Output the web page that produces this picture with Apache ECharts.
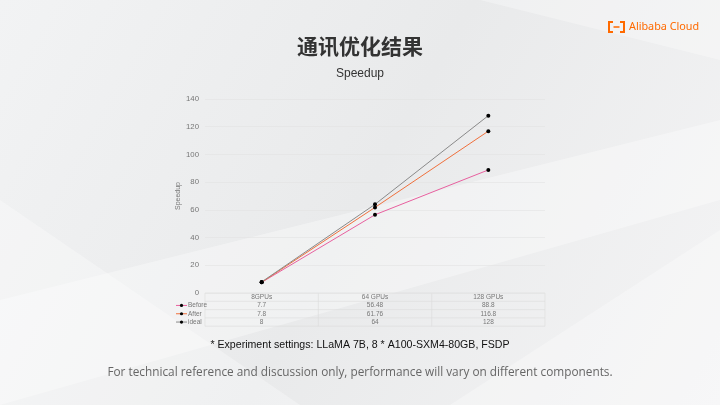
<!DOCTYPE html>
<html><head><meta charset="utf-8">
<script src="https://cdn.jsdelivr.net/npm/echarts@6/dist/echarts.min.js"></script>
<style>html,body{margin:0;padding:0;}#c{width:720px;height:405px;}</style>
</head><body><div id="c"></div>
<script>
const categories = ['8GPUs', '64 GPUs', '128 GPUs'];
const seriesNames = ['Before', 'After', 'ideal'];
const beforeVals = [7.7, 56.48, 88.8];
const afterVals = [7.8, 61.76, 116.8];
const idealVals = [8, 64, 128];
const yTicks = [0, 20, 40, 60, 80, 100, 120, 140];
const colors = ['#e8609f', '#f0703c', '#8a8a8a'];
const allVals = [beforeVals, afterVals, idealVals];

const chart = echarts.init(document.getElementById('c'));
const gl = 205, gr = 545, gt = 99, gb = 293;
const rowH = 8.3;
const graphics = [];
// background swooshes
graphics.push({type:'polygon', z:-10, shape:{points:[[0,300],[720,120],[720,200],[0,405]]}, style:{fill:'rgba(255,255,255,0.35)'}});
graphics.push({type:'polygon', z:-10, shape:{points:[[0,200],[300,405],[0,405]]}, style:{fill:'rgba(255,255,255,0.3)'}});
graphics.push({type:'polygon', z:-10, shape:{points:[[450,405],[720,230],[720,405]]}, style:{fill:'rgba(255,255,255,0.3)'}});
graphics.push({type:'polygon', z:-10, shape:{points:[[480,0],[720,0],[720,60]]}, style:{fill:'rgba(255,255,255,0.3)'}});
// table lines
for (let i = 0; i <= 4; i++) {
  graphics.push({type:'line', shape:{x1:gl, y1:gb + i*rowH, x2:gr, y2:gb + i*rowH}, style:{stroke:'#dcdcdc', lineWidth:0.6}});
}
for (let i = 0; i <= categories.length; i++) {
  const x = gl + (gr - gl) * i / categories.length;
  graphics.push({type:'line', shape:{x1:x, y1:gb, x2:x, y2:gb + 4*rowH}, style:{stroke:'#dcdcdc', lineWidth:0.6}});
}
seriesNames.forEach((n, i) => {
  const y = gb + rowH * (i + 1.5);
  graphics.push({type:'line', shape:{x1:176, y1:y, x2:187, y2:y}, style:{stroke:colors[i], lineWidth:1}});
  graphics.push({type:'circle', shape:{cx:181.5, cy:y, r:1.6}, style:{fill:'#000'}});
  graphics.push({type:'text', x:188, y:y, style:{text:n, font:'6.5px Arial', fill:'#777', textVerticalAlign:'middle'}});
});
// title etc.
graphics.push({type:'text', x:360, y:46, style:{text:'通讯优化结果', font:'bold 21px "Noto Sans CJK SC"', fill:'#333', textAlign:'center', textVerticalAlign:'middle'}});
graphics.push({type:'text', x:360, y:74, style:{text:'Speedup', font:'12px Arial', fill:'#333', textAlign:'center', textVerticalAlign:'middle'}});
graphics.push({type:'text', x:360, y:345, style:{text:'* Experiment settings: LLaMA 7B, 8 * A100-SXM4-80GB, FSDP', font:'10.6px Arial', fill:'#111', textAlign:'center', textVerticalAlign:'middle'}});
graphics.push({type:'text', x:360, y:373, style:{text:'For technical reference and discussion only, performance will vary on different components.', font:'11.8px "Open Sans"', fill:'#666', textAlign:'center', textVerticalAlign:'middle'}});
// logo
const lc = '#ff6a00';
graphics.push({type:'polyline', shape:{points:[[613,22],[609,22],[609,32],[613,32]]}, style:{stroke:lc, lineWidth:2, fill:null}});
graphics.push({type:'polyline', shape:{points:[[620,22],[624,22],[624,32],[620,32]]}, style:{stroke:lc, lineWidth:2, fill:null}});
graphics.push({type:'line', shape:{x1:613.5, y1:27, x2:619.5, y2:27}, style:{stroke:lc, lineWidth:1.5}});
graphics.push({type:'text', x:629, y:27, style:{text:'Alibaba Cloud', font:'10.8px "Noto Sans"', fill:lc, textVerticalAlign:'middle'}});

chart.setOption({
  backgroundColor: {type:'linear', x:0, y:0, x2:1, y2:1, colorStops:[{offset:0, color:'#f2f3f4'}, {offset:0.5, color:'#e9eaeb'}, {offset:1, color:'#f4f4f5'}]},
  animation: false,
  grid: {left: gl, right: 720 - gr, top: gt, bottom: 405 - gb},
  xAxis: {
    type: 'category', data: categories, boundaryGap: true,
    axisLine: {show: false}, axisTick: {show: false},
    axisLabel: {
      margin: 0, fontSize: 6.5, lineHeight: rowH, color: '#777', fontFamily: 'Arial',
      formatter: (v, idx) => [v].concat(allVals.map(a => a[idx])).join('\n')
    }
  },
  yAxis: {
    type: 'value', min: yTicks[0], max: yTicks[yTicks.length - 1], interval: 20,
    name: 'Speedup', nameLocation: 'middle', nameGap: 23, nameRotate: 90,
    nameTextStyle: {fontSize: 7, color: '#777', fontFamily: 'Arial'},
    axisLine: {show: false}, axisTick: {show: false},
    axisLabel: {fontSize: 7.8, color: '#777', margin: 6, fontFamily: 'Arial'},
    splitLine: {lineStyle: {color: '#e2e2e2', width: 0.6}}
  },
  series: seriesNames.map((n, i) => ({
    name: n, type: 'line', data: allVals[i], symbol: 'circle', symbolSize: 4,
    itemStyle: {color: '#000'}, lineStyle: {color: colors[i], width: 1}, z: 3 + i
  })),
  graphic: graphics
});
</script></body></html>
